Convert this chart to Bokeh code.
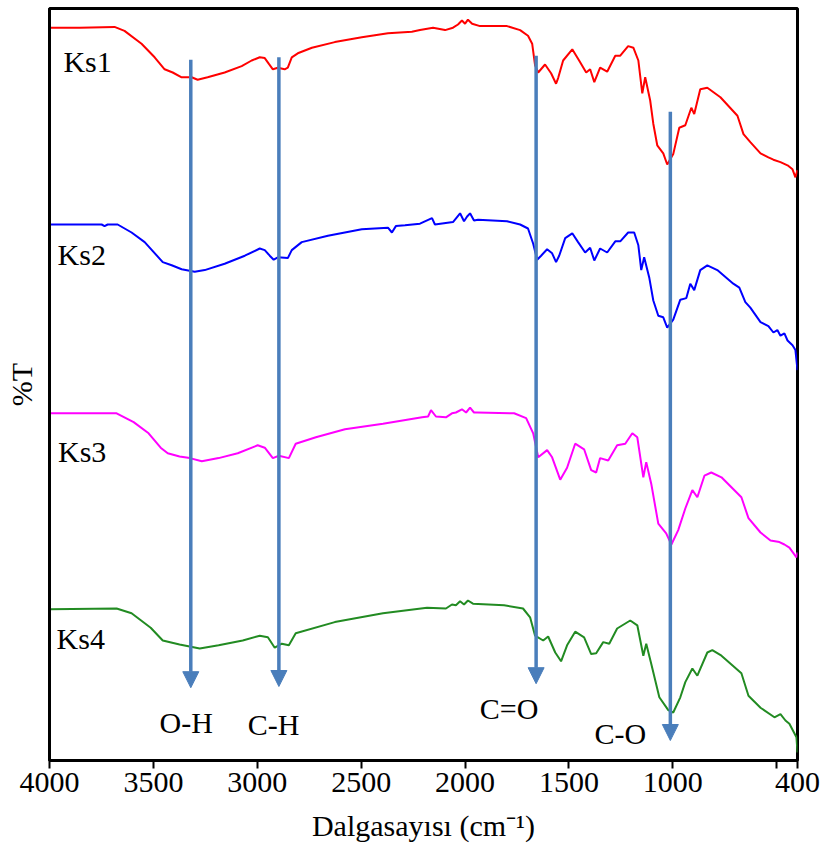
from bokeh.plotting import figure
from bokeh.models import Range1d, FixedTicker, Arrow, NormalHead, ColumnDataSource
from bokeh.embed import file_html
from bokeh.resources import INLINE
from bokeh.core.properties import value

FONT = "Liberation Serif"

# FTIR spectra (wavenumber in cm-1, %T stacked for display)
ks1_wn = [4000, 3855, 3687, 3639, 3557, 3494, 3446, 3407, 3364, 3316,
          3287, 3239, 3157, 3075, 3027, 2988, 2964, 2945, 2925, 2901,
          2868, 2853, 2834, 2805, 2737, 2627, 2497, 2371, 2256, 2217,
          2154, 2096, 2058, 2034, 2015, 2000, 1986, 1966, 1928, 1798,
          1735, 1697, 1677, 1663, 1648, 1615, 1586, 1562, 1552, 1528,
          1484, 1451, 1417, 1398, 1378, 1350, 1316, 1277, 1253, 1215,
          1190, 1166, 1147, 1133, 1109, 1094, 1075, 1046, 1027, 998,
          969, 940, 911, 897, 868, 834, 771, 689, 660, 627,
          578, 540, 516, 482, 448, 424, 410, 400]
ks1_t = [91.6, 91.6, 91.7, 91.2, 89.6, 87.9, 86.4, 86.0, 85.4, 85.4,
         85.1, 85.4, 86.0, 86.8, 87.5, 87.9, 87.8, 87.1, 86.4, 86.6,
         86.4, 86.6, 87.9, 88.4, 89.1, 89.8, 90.4, 90.9, 91.1, 91.3,
         91.6, 91.3, 91.6, 92.0, 92.5, 92.1, 92.6, 92.1, 91.8, 91.8,
         91.3, 90.6, 89.6, 86.9, 86.0, 87.0, 85.9, 84.6, 85.3, 87.5,
         88.9, 87.5, 86.0, 86.4, 84.8, 86.6, 86.1, 88.1, 88.1, 89.3,
         89.1, 87.5, 83.4, 85.4, 82.5, 79.6, 76.9, 75.9, 74.5, 75.8,
         79.1, 79.4, 81.6, 80.8, 83.9, 84.1, 82.9, 80.6, 78.3, 77.3,
         75.9, 75.4, 75.1, 74.8, 74.4, 73.9, 72.9, 73.8]

ks2_wn = [4000, 3749, 3735, 3720, 3672, 3605, 3542, 3455, 3412, 3364,
          3301, 3253, 3157, 3060, 2988, 2964, 2940, 2921, 2901, 2853,
          2834, 2786, 2660, 2497, 2371, 2352, 2333, 2289, 2217, 2159,
          2145, 2058, 2024, 2005, 1990, 1976, 1957, 1937, 1798, 1735,
          1697, 1672, 1653, 1634, 1605, 1581, 1562, 1547, 1518, 1484,
          1456, 1422, 1398, 1378, 1350, 1316, 1277, 1253, 1215, 1186,
          1166, 1152, 1138, 1113, 1094, 1070, 1046, 1027, 998, 964,
          935, 916, 897, 868, 834, 786, 709, 680, 651, 627,
          578, 540, 516, 497, 482, 463, 448, 424, 410, 400]
ks2_t = [67.0, 67.0, 66.8, 67.0, 67.0, 66.0, 64.8, 62.3, 61.9, 61.4,
         61.1, 61.3, 62.1, 63.1, 64.0, 63.8, 63.1, 62.6, 62.9, 62.8,
         63.8, 64.8, 65.6, 66.4, 66.6, 66.0, 66.8, 66.9, 67.1, 67.8,
         67.0, 67.3, 68.4, 67.4, 68.0, 68.4, 67.5, 67.6, 67.4, 67.0,
         66.5, 64.6, 62.6, 63.1, 63.9, 63.4, 62.3, 63.1, 65.3, 65.9,
         64.8, 63.5, 64.1, 62.5, 64.0, 63.5, 64.9, 64.9, 66.0, 66.0,
         64.4, 61.3, 62.9, 60.3, 57.5, 55.6, 55.4, 54.1, 55.1, 57.6,
         57.8, 59.6, 58.8, 61.3, 61.9, 61.3, 59.6, 59.1, 57.3, 56.6,
         54.8, 54.3, 53.5, 53.8, 53.1, 53.4, 52.5, 51.9, 51.3, 48.8]

ks3_wn = [4000, 3677, 3595, 3523, 3465, 3431, 3374, 3325, 3267, 3186,
          3094, 2998, 2964, 2925, 2896, 2848, 2815, 2718, 2578, 2395,
          2207, 2178, 2164, 2140, 2092, 2063, 2044, 2015, 1995, 1976,
          1957, 1942, 1764, 1706, 1672, 1648, 1605, 1581, 1542, 1509,
          1470, 1427, 1393, 1369, 1350, 1311, 1268, 1229, 1195, 1171,
          1142, 1128, 1104, 1070, 1032, 1007, 974, 940, 906, 882,
          848, 815, 766, 670, 636, 578, 530, 487, 463, 439,
          405, 400]
ks3_t = [43.4, 43.4, 42.3, 40.9, 39.1, 38.4, 38.0, 37.8, 37.4, 37.8,
         38.4, 39.4, 39.1, 37.8, 38.1, 37.8, 39.6, 40.4, 41.4, 42.1,
         42.9, 43.0, 43.8, 43.0, 42.9, 43.4, 43.5, 43.9, 43.5, 44.1,
         43.5, 43.5, 43.4, 42.8, 40.9, 37.9, 38.8, 37.9, 35.1, 36.6,
         39.6, 38.9, 36.3, 36.0, 37.8, 37.5, 39.4, 39.6, 40.9, 40.4,
         35.4, 37.3, 34.6, 29.6, 28.4, 27.0, 28.8, 31.5, 33.8, 32.9,
         35.6, 36.0, 35.4, 32.9, 30.3, 28.5, 27.5, 27.3, 27.0, 26.6,
         25.4, 26.0]

ks4_wn = [4000, 3677, 3605, 3513, 3455, 3374, 3277, 3186, 3070, 2988,
          2949, 2916, 2882, 2848, 2815, 2627, 2395, 2183, 2092, 2063,
          2044, 2024, 2005, 1986, 1962, 1812, 1721, 1687, 1663, 1624,
          1600, 1566, 1538, 1509, 1470, 1427, 1393, 1369, 1335, 1306,
          1268, 1205, 1171, 1142, 1128, 1104, 1065, 1022, 998, 964,
          940, 906, 882, 834, 810, 766, 670, 636, 578, 511,
          482, 458, 439, 405, 400]
ks4_t = [18.9, 19.0, 18.4, 16.6, 15.0, 14.5, 14.0, 14.4, 15.0, 15.6,
         15.4, 14.1, 14.6, 14.4, 15.9, 17.3, 18.4, 19.1, 19.0, 19.5,
         19.4, 19.9, 19.5, 20.0, 19.6, 19.4, 19.0, 17.9, 15.6, 15.0,
         15.5, 13.5, 12.4, 14.4, 16.1, 15.4, 13.3, 13.4, 14.8, 14.6,
         16.5, 17.5, 16.9, 13.1, 14.6, 12.1, 7.9, 6.3, 6.0, 7.9,
         9.8, 11.5, 10.6, 13.5, 13.8, 13.1, 10.9, 8.1, 6.6, 5.4,
         5.8, 5.0, 4.6, 2.9, 1.0]

sample_names = ["Ks1", "Ks2", "Ks3", "Ks4"]
sample_colors = ["#ff0000", "#0000ff", "#ff00ff", "#228b22"]
sample_label_wn = [3933, 3961, 3959, 3966]
sample_label_t = [87.4, 63.2, 38.6, 15.3]

# Assigned bands: arrow position, arrow extent and label placement
band_names = ["O-H", "C-H", "C=O", "C-O"]
band_wn = [3320, 2896, 1658, 1012]
band_top = [87.6, 87.9, 88.1, 81.1]
band_tip = [9.1, 9.25, 9.6, 2.5]
band_label_wn = [3342, 2921, 1788, 1253]
band_label_t = [4.75, 4.5, 6.5, 3.4]

x_ticks = [4000, 3500, 3000, 2500, 2000, 1500, 1000, 500, 400]
x_title = "Dalgasayısı (cm\u207b\u00b9)"

p = figure(width=821, height=844, output_backend="svg", toolbar_location=None,
           x_range=Range1d(4000, 400), y_range=Range1d(0, 94),
           min_border_left=49, min_border_right=24,
           min_border_top=8, min_border_bottom=84)
p.grid.visible = False
p.background_fill_color = "white"
p.border_fill_color = "white"
p.outline_line_color = "black"
p.outline_line_width = 3

xa = p.xaxis[0]
xa.ticker = FixedTicker(ticks=x_ticks)
xa.major_label_overrides = {500: ""}
xa.axis_line_color = "black"
xa.axis_line_width = 3
xa.major_tick_in = 0
xa.major_tick_out = 8
xa.major_tick_line_width = 2
xa.major_tick_line_color = "black"
xa.minor_tick_line_color = None
xa.major_label_standoff = 4
xa.major_label_text_font = FONT
xa.major_label_text_font_size = "30px"
xa.major_label_text_color = "black"
xa.axis_label = x_title
xa.axis_label_text_font = FONT
xa.axis_label_text_font_size = "30px"
xa.axis_label_text_font_style = "normal"
xa.axis_label_text_color = "black"
xa.axis_label_standoff = 14

ya = p.yaxis[0]
ya.ticker = FixedTicker(ticks=[])
ya.axis_line_color = "black"
ya.axis_line_width = 3
ya.major_tick_line_color = None
ya.minor_tick_line_color = None
ya.axis_label = "%T"
ya.axis_label_text_font = FONT
ya.axis_label_text_font_size = "30px"
ya.axis_label_text_font_style = "normal"
ya.axis_label_text_color = "black"
ya.axis_label_standoff = 12

series = [(ks1_wn, ks1_t), (ks2_wn, ks2_t), (ks3_wn, ks3_t), (ks4_wn, ks4_t)]
for (wn, t), color in zip(series, sample_colors):
    p.line(wn, t, line_color=color, line_width=2)

p.text(x=sample_label_wn, y=sample_label_t, text=sample_names,
       text_font=value(FONT), text_font_size="30px", text_color="black",
       text_align="left", text_baseline="middle")

arrow_color = "#4a7ebb"
arrows = ColumnDataSource(dict(x0=band_wn, y0=band_top, x1=band_wn, y1=band_tip))
p.add_layout(Arrow(source=arrows, x_start="x0", y_start="y0", x_end="x1", y_end="y1",
                   line_color=arrow_color, line_width=3.5,
                   end=NormalHead(size=16, fill_color=arrow_color,
                                  line_color=arrow_color, line_width=1)))

p.text(x=band_label_wn, y=band_label_t, text=band_names,
       text_font=value(FONT), text_font_size="30px", text_color="black",
       text_align="center", text_baseline="middle")

open("out.html", "w").write(file_html(p, INLINE))
